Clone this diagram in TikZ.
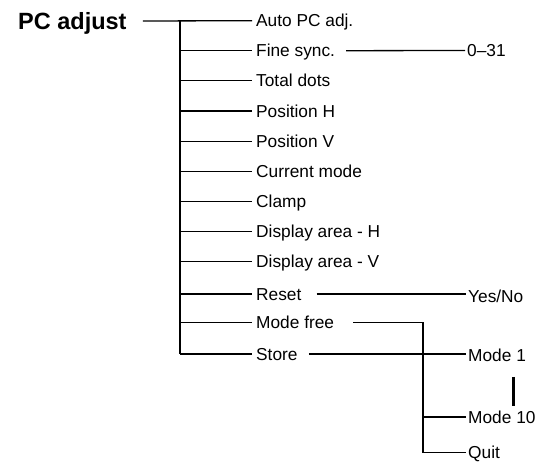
\documentclass[tikz,border=0pt]{standalone}
\usepackage{fontspec}
\setmainfont{Liberation Sans}
\begin{document}
\begin{tikzpicture}[x=1pt,y=-1pt,
  lab/.style={font=\fontsize{17.3}{19}\selectfont, inner sep=0pt, text height=12.4pt, text depth=0pt, anchor=west},
  ttl/.style={font=\fontsize{23.5}{26}\selectfont\bfseries, inner sep=0pt, text height=16.8pt, text depth=0pt, anchor=west},
  ln/.style={line width=1.3pt, black}]
\useasboundingbox (0,0) rectangle (555,462);
\node[ttl] (pc) at (18,21) {PC adjust};
\node[lab] (auto) at (256,20.7) {Auto PC adj.};
\node[lab] (fine) at (256,50.7) {Fine sync.};
\node[lab] (total) at (256,80.5) {Total dots};
\node[lab] (posh) at (256,111) {Position H};
\node[lab] (posv) at (256,141.3) {Position V};
\node[lab] (curr) at (256,171.7) {Current mode};
\node[lab] (clamp) at (256,201.7) {Clamp};
\node[lab] (dh) at (256,231.7) {Display area - H};
\node[lab] (dv) at (256,261.7) {Display area - V};
\node[lab] (reset) at (256,294) {Reset};
\node[lab] (mfree) at (256,322.3) {Mode free};
\node[lab] (store) at (256,354) {Store};
\node[lab] (r031) at (467,50.5) {0–31};
\node[lab] (yesno) at (468,296.5) {Yes/No};
\node[lab] (mode1) at (468,355) {Mode 1};
\node[lab] (mode10) at (468,417) {Mode 10};
\node[lab] (quit) at (468,452.5) {Quit};
\coordinate (t) at (180,21);
% main line and trunk
\draw[ln] ([xshift=16pt]pc.east) -- ([xshift=-4pt]auto.west);
\draw[ln] (t) -- (t |- store.west);
\foreach \n in {fine,total,posh,posv,curr,clamp,dh,dv,reset,mfree,store}
  \draw[ln] (t |- \n.west) -- ([xshift=-4pt]\n.west);
% sub-branches
\draw[ln] ([xshift=11pt]fine.east) -- ([xshift=-2pt]r031.west);
\draw[ln] ([xshift=15pt]reset.east) -- ([xshift=-2pt]yesno.west |- reset.east);
\draw[ln] ([xshift=11pt]store.east) -- ([xshift=-2pt]mode1.west |- store.east);
\draw[ln] ([xshift=19pt]mfree.east) -| ([xshift=-45pt]quit.west) -- ([xshift=-2pt]quit.west);
\draw[ln] ([xshift=-45pt]mode10.west) -- ([xshift=-2pt]mode10.west);
\draw[line width=3pt] (513,377) -- (513,406);
\end{tikzpicture}
\end{document}
